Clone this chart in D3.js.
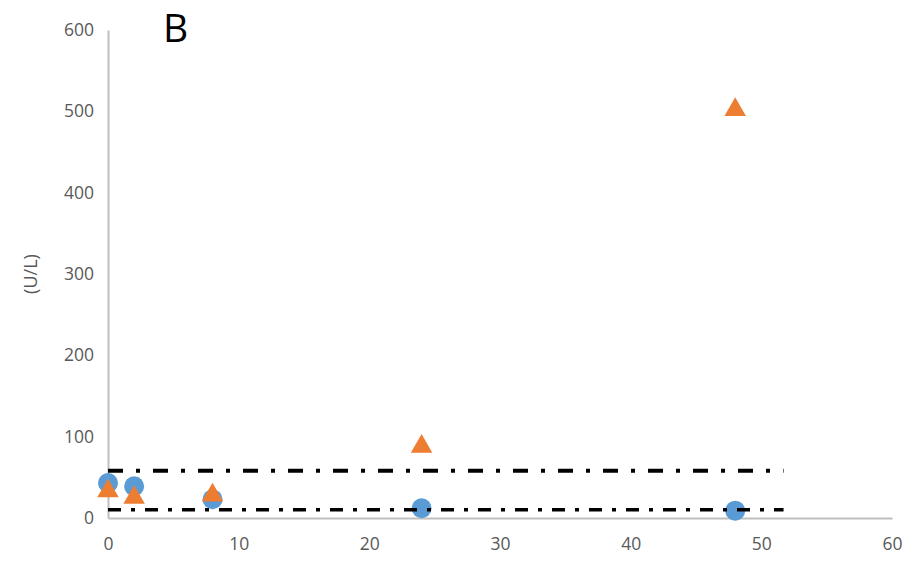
<!DOCTYPE html>
<html>
<head>
<meta charset="utf-8">
<script src="https://cdn.jsdelivr.net/npm/d3@7"></script>
<style>
  html, body { margin: 0; padding: 0; background: #fff; }
  svg { display: block; }
</style>
</head>
<body>
<svg id="chart" width="907" height="567"></svg>
<script>
// Time points (h) and enzyme activity (U/L)
const hours = [0, 2, 8, 24, 48];
const seriesCircle = [43, 39, 23, 12, 9];
const seriesTriangle = [33, 25, 28, 88, 502];
// Reference range limits
const upperLimit = 58;
const lowerLimit = 10;
const refLineEnd = 51.7;
const xTicks = [0, 10, 20, 30, 40, 50, 60];
const yTicks = [0, 100, 200, 300, 400, 500, 600];

const svg = d3.select("#chart");
const x = d3.scaleLinear().domain([0, 60]).range([108, 892]);
const y = d3.scaleLinear().domain([0, 600]).range([518, 30]);

const axisColor = "#bfbfbf";
const textColor = "#595959";
const font = "'Open Sans', 'Noto Sans', sans-serif";

// Y axis
const yAxis = svg.append("g").attr("transform", `translate(${x(0)},0)`)
  .call(d3.axisLeft(y).tickValues(yTicks).tickSize(0).tickPadding(14));
yAxis.select(".domain").attr("stroke", axisColor).attr("stroke-width", 2);
yAxis.selectAll("text").attr("fill", textColor).style("font-family", font).style("font-size", "17.5px");

// X axis
const xAxis = svg.append("g").attr("transform", `translate(0,${y(0)})`)
  .call(d3.axisBottom(x).tickValues(xTicks).tickSize(0).tickPadding(20));
xAxis.select(".domain").attr("stroke", axisColor).attr("stroke-width", 2);
xAxis.selectAll("text").attr("fill", textColor).style("font-family", font).style("font-size", "17.5px");

// Y axis title
svg.append("text")
  .attr("transform", `translate(37,${y(300)}) rotate(-90)`)
  .attr("text-anchor", "middle")
  .attr("fill", textColor)
  .style("font-family", font).style("font-size", "18px")
  .text("(U/L)");

// Panel letter
svg.append("text")
  .attr("x", 163).attr("y", 42)
  .attr("fill", "#000")
  .style("font-family", font).style("font-size", "39px")
  .text("B");

// Circle series
svg.append("g").selectAll("circle")
  .data(hours.map((h, i) => ({ h, v: seriesCircle[i] })))
  .join("circle")
  .attr("cx", d => x(d.h)).attr("cy", d => y(d.v)).attr("r", 10)
  .attr("fill", "#5b9bd5");

// Triangle series
const tri = d3.symbol().type(d3.symbolTriangle).size(200);
svg.append("g").selectAll("path")
  .data(hours.map((h, i) => ({ h, v: seriesTriangle[i] })))
  .join("path")
  .attr("d", tri)
  .attr("transform", d => `translate(${x(d.h)},${y(d.v)})`)
  .attr("fill", "#ed7d31");

// Reference range lines (dash-dot)
svg.append("line")
  .attr("x1", x(0)).attr("x2", x(refLineEnd))
  .attr("y1", y(upperLimit)).attr("y2", y(upperLimit))
  .attr("stroke", "#000").attr("stroke-width", 4)
  .attr("stroke-dasharray", "15 13 4 13");
svg.append("line")
  .attr("x1", x(0)).attr("x2", x(refLineEnd))
  .attr("y1", y(lowerLimit)).attr("y2", y(lowerLimit))
  .attr("stroke", "#000").attr("stroke-width", 3.5)
  .attr("stroke-dasharray", "13 10 4 10");
</script>
</body>
</html>
